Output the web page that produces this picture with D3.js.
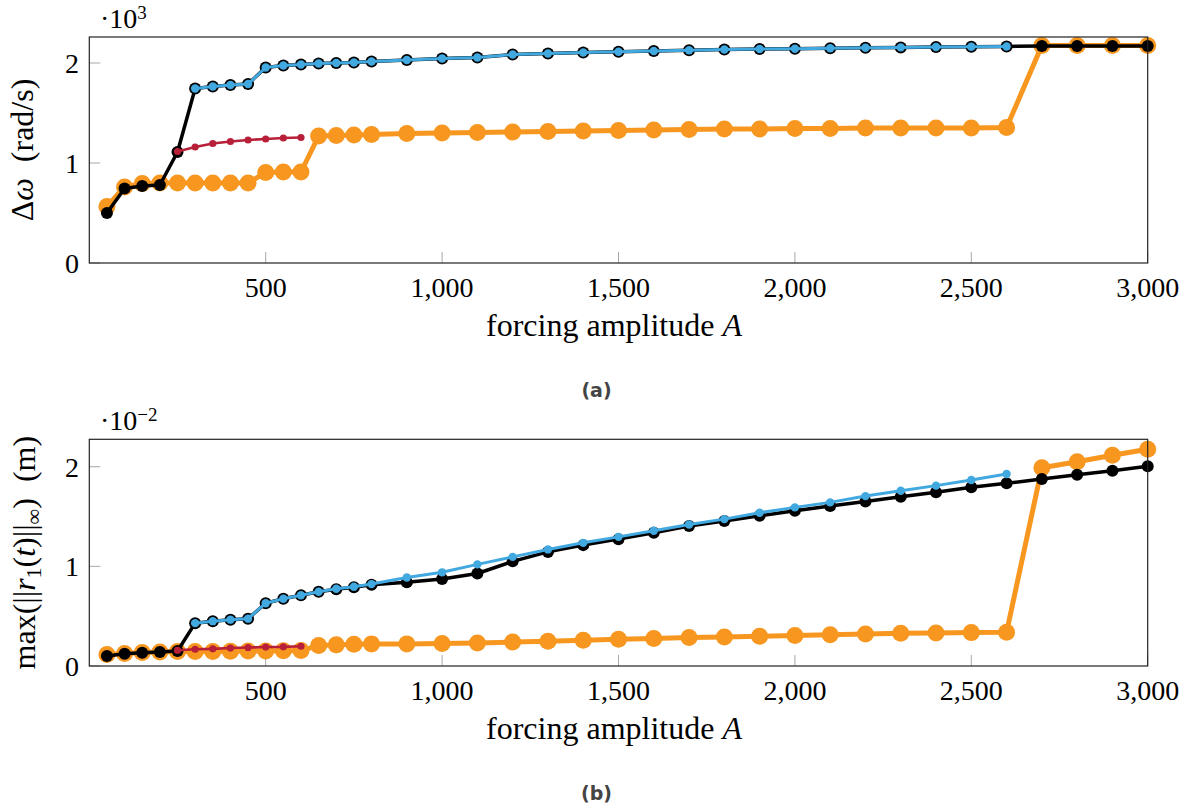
<!DOCTYPE html>
<html>
<head>
<meta charset="utf-8">
<script src="https://cdn.jsdelivr.net/npm/d3@7"></script>
<style>
body { margin: 0; background: #fff; }
text { font-family: "Liberation Serif", serif; fill: #000; }
.cap { font-family: "DejaVu Sans", sans-serif; font-weight: bold; fill: #444; }
</style>
</head>
<body>
<svg id="fig" width="1193" height="808"></svg>
<script>
// forcing amplitudes
let amps = [50, 100, 150, 200, 250, 300, 350, 400, 450, 500, 550, 600, 650, 700, 750, 800,
  900, 1000, 1100, 1200, 1300, 1400, 1500, 1600, 1700, 1800, 1900, 2000, 2100, 2200, 2300, 2400, 2500, 2600,
  2700, 2800, 2900, 3000];
let ampsBlue = amps.slice(5, 34);  // 300 .. 2600
let ampsRed = amps.slice(4, 12);   // 250 .. 600

let xTicks = [500, 1000, 1500, 2000, 2500, 3000];
let yTicks = [0, 1, 2];

// (a) delta omega, x10^3 rad/s
let dwOrange = [0.565, 0.76, 0.795, 0.80, 0.80, 0.80, 0.80, 0.80, 0.80, 0.905, 0.91, 0.91, 1.27, 1.275, 1.28, 1.285,
  1.295, 1.30, 1.305, 1.31, 1.315, 1.32, 1.325, 1.33, 1.335, 1.34, 1.34, 1.345, 1.345, 1.35, 1.35, 1.35, 1.35, 1.355,
  2.175, 2.175, 2.175, 2.175];
let dwBlack = [0.50, 0.745, 0.77, 0.78, 1.11, 1.745, 1.765, 1.78, 1.79, 1.955, 1.975, 1.985, 1.995, 2.0, 2.005, 2.015,
  2.03, 2.045, 2.055, 2.085, 2.095, 2.105, 2.113, 2.12, 2.128, 2.135, 2.14, 2.143, 2.147, 2.152, 2.156, 2.16, 2.162, 2.165,
  2.17, 2.17, 2.17, 2.17];
let dwBlue = [1.745, 1.765, 1.78, 1.79, 1.955, 1.975, 1.985, 1.995, 2.0, 2.005, 2.015,
  2.03, 2.045, 2.055, 2.085, 2.095, 2.105, 2.113, 2.12, 2.128, 2.135, 2.14, 2.143, 2.147, 2.152, 2.156, 2.16, 2.162, 2.165];
let dwRed = [1.115, 1.16, 1.195, 1.215, 1.23, 1.24, 1.25, 1.255];

// (b) max |r1|, x10^-2 m
let rOrange = [0.115, 0.125, 0.135, 0.14, 0.145, 0.145, 0.145, 0.148, 0.15, 0.15, 0.152, 0.155, 0.205, 0.212, 0.218, 0.222,
  0.222, 0.225, 0.231, 0.24, 0.248, 0.258, 0.268, 0.275, 0.285, 0.291, 0.298, 0.305, 0.313, 0.322, 0.328, 0.332, 0.335, 0.338,
  1.99, 2.05, 2.115, 2.175];
let rBlack = [0.10, 0.122, 0.132, 0.14, 0.15, 0.43, 0.45, 0.465, 0.475, 0.63, 0.675, 0.71, 0.745, 0.77, 0.79, 0.815,
  0.84, 0.874, 0.928, 1.05, 1.145, 1.213, 1.273, 1.337, 1.404, 1.454, 1.508, 1.558, 1.605, 1.65, 1.698, 1.743, 1.793, 1.833,
  1.876, 1.92, 1.96, 2.005];
let rBlue = [0.43, 0.45, 0.465, 0.475, 0.63, 0.675, 0.71, 0.745, 0.775, 0.795, 0.822,
  0.888, 0.94, 1.02, 1.095, 1.17, 1.236, 1.296, 1.357, 1.42, 1.474, 1.538, 1.592, 1.642, 1.705, 1.759, 1.81, 1.866, 1.927];
let rRed = [0.158, 0.168, 0.172, 0.18, 0.185, 0.19, 0.192, 0.198];

let orange = "#f7971f", blue = "#41a8e0", red = "#b8203a";
let serif = "'Liberation Serif', serif";

let svg = d3.select("#fig");
svg.append("rect").attr("width", 1193).attr("height", 808).attr("fill", "#fff");

let x = d3.scaleLinear().domain([0, 3000]).range([89.3, 1147.7]);

function panel(top, bottom, ymax, series, expo, ylab, ylabX, caption) {
  let y = d3.scaleLinear().domain([0, ymax]).range([bottom, top]);
  let g = svg.append("g");

  // ticks (inside, grey)
  g.selectAll(".xt").data(xTicks).enter().append("line")
    .attr("x1", d => x(d)).attr("x2", d => x(d))
    .attr("y1", bottom).attr("y2", bottom - 11)
    .attr("stroke", "#a8a8a8").attr("stroke-width", 1);
  g.selectAll(".yt").data(yTicks).enter().append("line")
    .attr("x1", x.range()[0]).attr("x2", x.range()[0] + 11)
    .attr("y1", d => y(d)).attr("y2", d => y(d))
    .attr("stroke", "#a8a8a8").attr("stroke-width", 1);

  // series
  let line = d3.line().x(d => x(d[0])).y(d => y(d[1]));
  series.forEach(s => {
    let pts = s.xs.map((v, i) => [v, s.ys[i]]);
    g.append("path").datum(pts)
      .attr("d", line)
      .attr("fill", "none")
      .attr("stroke", s.color)
      .attr("stroke-width", s.lw)
      .attr("stroke-linejoin", "round");
    g.selectAll(null).data(pts).enter().append("circle")
      .attr("cx", d => x(d[0])).attr("cy", d => y(d[1]))
      .attr("r", s.r).attr("fill", s.color);
  });

  // box
  g.append("rect")
    .attr("x", x.range()[0]).attr("y", top)
    .attr("width", x.range()[1] - x.range()[0]).attr("height", bottom - top)
    .attr("fill", "none").attr("stroke", "#222").attr("stroke-width", 1.2);

  // tick labels
  g.selectAll(".xl").data(xTicks).enter().append("text")
    .attr("x", d => x(d)).attr("y", bottom + 34)
    .attr("text-anchor", "middle")
    .style("font-family", serif).style("font-size", "28px")
    .text(d => d3.format(",")(d));
  g.selectAll(".yl").data(yTicks).enter().append("text")
    .attr("x", 79).attr("y", d => y(d) + 10)
    .attr("text-anchor", "end")
    .style("font-family", serif).style("font-size", "28px")
    .text(d => d);

  // exponent
  let ex = g.append("text").attr("x", 100).attr("y", top - 9)
    .style("font-family", serif).style("font-size", "28px");
  ex.append("tspan").text("·10");
  ex.append("tspan").attr("dy", -9).style("font-size", "19px").text(expo);

  // x label
  let xl = g.append("text").attr("x", 614).attr("y", bottom + 73)
    .attr("text-anchor", "middle")
    .style("font-family", serif).style("font-size", "32px");
  xl.append("tspan").text("forcing amplitude ");
  xl.append("tspan").style("font-style", "italic").text("A");

  // y label
  let yl = g.append("text")
    .attr("transform", `translate(${ylabX},${(top + bottom) / 2}) rotate(-90)`)
    .attr("text-anchor", "middle")
    .style("font-family", serif).style("font-size", "32px");
  ylab(yl);

  svg.append("text").attr("class", "cap")
    .attr("x", 596.5).attr("y", bottom + 134)
    .attr("text-anchor", "middle").style("font-size", "19px")
    .text(caption);
}

panel(37, 263, 2.26, [
  { xs: amps, ys: dwOrange, color: orange, lw: 5, r: 8.5 },
  { xs: amps, ys: dwBlack, color: "#000", lw: 3.5, r: 6 },
  { xs: ampsRed, ys: dwRed, color: red, lw: 2.6, r: 3.6 },
  { xs: ampsBlue, ys: dwBlue, color: blue, lw: 3, r: 4.2 }
], "3", t => {
  t.append("tspan").text("Δ");
  t.append("tspan").style("font-style", "italic").text("ω");
  t.append("tspan").text("\u2002(rad/s)");
}, 33, "(a)");

panel(439.3, 666, 2.275, [
  { xs: amps, ys: rOrange, color: orange, lw: 5, r: 8.5 },
  { xs: amps, ys: rBlack, color: "#000", lw: 3.5, r: 6 },
  { xs: ampsRed, ys: rRed, color: red, lw: 2.6, r: 3.6 },
  { xs: ampsBlue, ys: rBlue, color: blue, lw: 3, r: 4.2 }
], "−2", t => {
  t.append("tspan").text("max(||");
  t.append("tspan").style("font-style", "italic").text("r");
  t.append("tspan").attr("dy", 6).style("font-size", "22px").text("1");
  t.append("tspan").attr("dy", -6).text("(");
  t.append("tspan").style("font-style", "italic").text("t");
  t.append("tspan").text(")||");
  t.append("tspan").attr("dy", 6).style("font-size", "22px").text("∞");
  t.append("tspan").attr("dy", -6).text(")\u2002(m)");
}, 35, "(b)");
</script>
</body>
</html>
